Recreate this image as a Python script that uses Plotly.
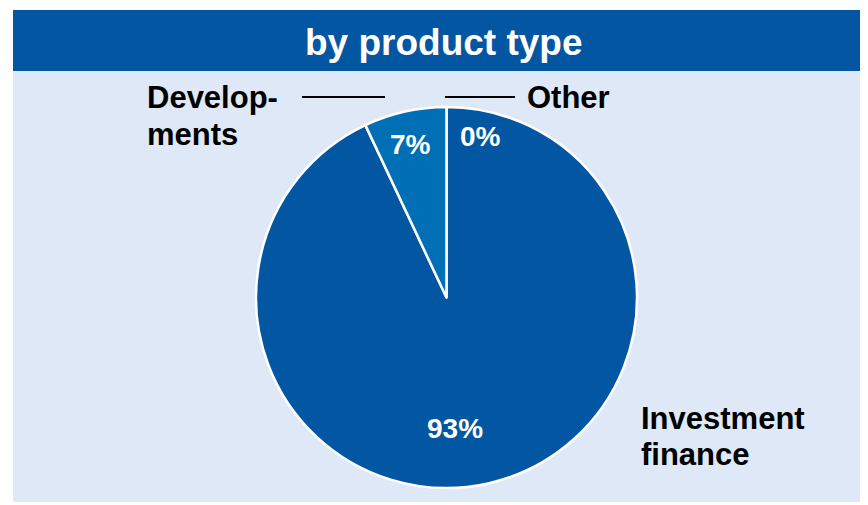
import plotly.graph_objects as go

# The browser puts an 8px body margin around the plot, so the figure is made
# 8px smaller and all positions below are reference pixels shifted by OFF.
OFF = 8
W, H = 868 - OFF, 505 - OFF

# Data
labels = ["Other", "Investment finance", "Developments"]
values = [0, 93, 7]
slice_colors = ["#0256A2", "#0256A2", "#006FB6"]
pct_text = [f"{v}%" for v in values]

TITLE = "by product type"
DARK = "#0256A2"
BG = "#DFE8F6"
FONT = "Arial, Liberation Sans, sans-serif"


def px(x):
    return (x - OFF) / W


def py(y):
    return 1 - (y - OFF) / H


fig = go.Figure()

fig.add_trace(go.Pie(
    labels=labels,
    values=values,
    sort=False,
    direction="clockwise",
    rotation=0,
    marker=dict(colors=slice_colors, line=dict(color="white", width=2.5)),
    textinfo="none",
    hoverinfo="label+percent",
    showlegend=False,
    domain=dict(x=[px(200), px(693)], y=[py(488), py(107)]),
))

# Panel background + title bar
shapes = [
    dict(type="rect", xref="paper", yref="paper", x0=px(13), x1=1, y0=py(502), y1=py(71),
         fillcolor=BG, line_width=0, layer="below"),
    dict(type="rect", xref="paper", yref="paper", x0=px(13), x1=1, y0=py(71), y1=py(10),
         fillcolor=DARK, line_width=0, layer="below"),
    # leader lines
    dict(type="line", xref="paper", yref="paper", x0=px(302), x1=px(385), y0=py(97), y1=py(97),
         line=dict(color="black", width=2)),
    dict(type="line", xref="paper", yref="paper", x0=px(445), x1=px(515), y0=py(97), y1=py(97),
         line=dict(color="black", width=2)),
]

ann = []


def add_text(text, x, y, size, color, xanchor="left"):
    ann.append(dict(text=text, x=px(x), y=py(y), xref="paper", yref="paper",
                    xanchor=xanchor, yanchor="middle", showarrow=False,
                    font=dict(family=FONT, size=size, color=color, weight="bold")))


add_text(TITLE, 444, 42, 37, "white", xanchor="center")

# category labels
add_text("Develop-", 145, 98, 31, "black")
add_text("ments", 145, 134, 31, "black")
add_text(labels[0], 525, 98, 31, "black")
add_text("Investment", 639, 418, 31, "black")
add_text("finance", 639, 454, 31, "black")

# percentage labels inside the pie
add_text(pct_text[2], 410, 144, 28, "white", xanchor="center")
add_text(pct_text[0], 480, 136, 28, "white", xanchor="center")
add_text(pct_text[1], 455, 428, 28, "white", xanchor="center")

fig.update_layout(
    width=W, height=H,
    margin=dict(l=0, r=0, t=0, b=0),
    paper_bgcolor="white",
    plot_bgcolor="white",
    shapes=shapes,
    annotations=ann,
    showlegend=False,
)

fig.write_html("out.html")
